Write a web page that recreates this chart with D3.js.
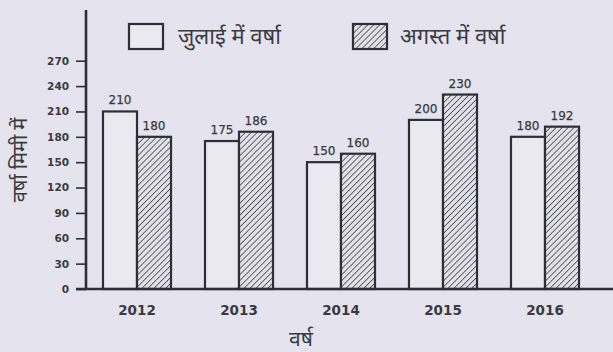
<!DOCTYPE html>
<html>
<head>
<meta charset="utf-8">
<script src="https://cdn.jsdelivr.net/npm/d3@7"></script>
<style>
  html, body { margin: 0; padding: 0; background: #e5e3ed; }
  svg { display: block; }
</style>
</head>
<body>
<svg id="chart" width="613" height="352"></svg>
<script>
// Rainfall (mm) in July and August, 2012–2016
const years = ["2012", "2013", "2014", "2015", "2016"];
const julyRain = [210, 175, 150, 200, 180];
const augustRain = [180, 186, 160, 230, 192];
const seriesNames = ["जुलाई में वर्षा", "अगस्त में वर्षा"];
const yTicks = [0, 30, 60, 90, 120, 150, 180, 210, 240, 270];
const xTitle = "वर्ष";
const yTitle = "वर्षा मिमी में";

const svg = d3.select("#chart");
const ink = "#2e2e36";
const textInk = "#3a3a42";
const barFill = "#eae8f0";

// diagonal hatch for the August series
const defs = svg.append("defs");
const pat = defs.append("pattern")
  .attr("id", "hatch")
  .attr("patternUnits", "userSpaceOnUse")
  .attr("width", 4.2).attr("height", 4.2)
  .attr("patternTransform", "rotate(45)");
pat.append("rect").attr("width", 4.2).attr("height", 4.2).attr("fill", "#e2e0e8");
pat.append("line")
  .attr("x1", 0).attr("y1", 0).attr("x2", 0).attr("y2", 4.2)
  .attr("stroke", "#47474f").attr("stroke-width", 1.6);

const x0 = d3.scaleBand().domain(years).range([86, 596]).paddingInner(0.333).paddingOuter(0.1665);
const x1 = d3.scaleBand().domain([0, 1]).range([0, x0.bandwidth()]);
const y = d3.scaleLinear().domain([0, 330]).range([289, 10]);

const rows = years.map((yr, i) => ({ year: yr, values: [julyRain[i], augustRain[i]] }));

// bars
const groups = svg.append("g").selectAll("g")
  .data(rows).join("g")
  .attr("transform", d => `translate(${x0(d.year)},0)`);

groups.selectAll("rect")
  .data(d => d.values.map((v, k) => ({ v, k })))
  .join("rect")
  .attr("x", d => x1(d.k))
  .attr("y", d => y(d.v))
  .attr("width", x1.bandwidth())
  .attr("height", d => y(0) - y(d.v))
  .attr("fill", d => d.k === 0 ? barFill : "url(#hatch)")
  .attr("stroke", ink)
  .attr("stroke-width", 2.2);

groups.selectAll("text.val")
  .data(d => d.values.map((v, k) => ({ v, k })))
  .join("text")
  .attr("class", "val")
  .attr("x", d => x1(d.k) + x1.bandwidth() / 2)
  .attr("y", d => y(d.v) - 7)
  .attr("text-anchor", "middle")
  .attr("font-family", "'DejaVu Sans', sans-serif")
  .attr("font-size", 12)
  .attr("fill", textInk)
  .attr("stroke", textInk).attr("stroke-width", 0.25)
  .text(d => d.v);

// y axis
const yAxis = d3.axisLeft(y).tickValues(yTicks).tickSize(10).tickPadding(7);
const gy = svg.append("g").attr("transform", "translate(86,0)").call(yAxis);
gy.select(".domain").attr("stroke", ink).attr("stroke-width", 2.6).attr("d", `M0,${y(330)}V${y(0)}`);
gy.selectAll(".tick line").attr("stroke", ink).attr("stroke-width", 1.6);
gy.selectAll(".tick text")
  .attr("font-family", "'DejaVu Sans', sans-serif")
  .attr("font-size", 10.5)
  .attr("font-weight", "bold")
  .attr("fill", textInk);

// x axis
const xAxis = d3.axisBottom(x0).tickSize(0).tickPadding(16);
const gx = svg.append("g").attr("transform", `translate(0,${y(0)})`).call(xAxis);
gx.select(".domain").attr("stroke", ink).attr("stroke-width", 2.4).attr("d", `M76,0H613`);
gx.selectAll(".tick text")
  .attr("font-family", "'DejaVu Sans', sans-serif")
  .attr("font-size", 13.5)
  .attr("font-weight", "bold")
  .attr("fill", textInk);

// axis titles
svg.append("text")
  .attr("x", 301).attr("y", 346)
  .attr("text-anchor", "middle")
  .attr("font-family", "'Noto Sans', sans-serif")
  .attr("font-size", 21)
  .attr("fill", textInk)
  .text(xTitle);

svg.append("text")
  .attr("transform", "translate(27,160) rotate(-90)")
  .attr("text-anchor", "middle")
  .attr("font-family", "'Noto Sans', sans-serif")
  .attr("font-size", 20)
  .attr("fill", textInk)
  .text(yTitle);

// legend
const legend = svg.append("g");
const legendItems = [
  { name: seriesNames[0], fill: barFill, bx: 129, tx: 178 },
  { name: seriesNames[1], fill: "url(#hatch)", bx: 353, tx: 400 }
];
legendItems.forEach(it => {
  legend.append("rect")
    .attr("x", it.bx).attr("y", 24)
    .attr("width", 34).attr("height", 25)
    .attr("fill", it.fill)
    .attr("stroke", ink).attr("stroke-width", 2.2);
  legend.append("text")
    .attr("x", it.tx).attr("y", 44)
    .attr("font-family", "'Noto Sans', sans-serif")
    .attr("font-size", 22)
    .attr("fill", textInk)
    .text(it.name);
});
</script>
</body>
</html>
